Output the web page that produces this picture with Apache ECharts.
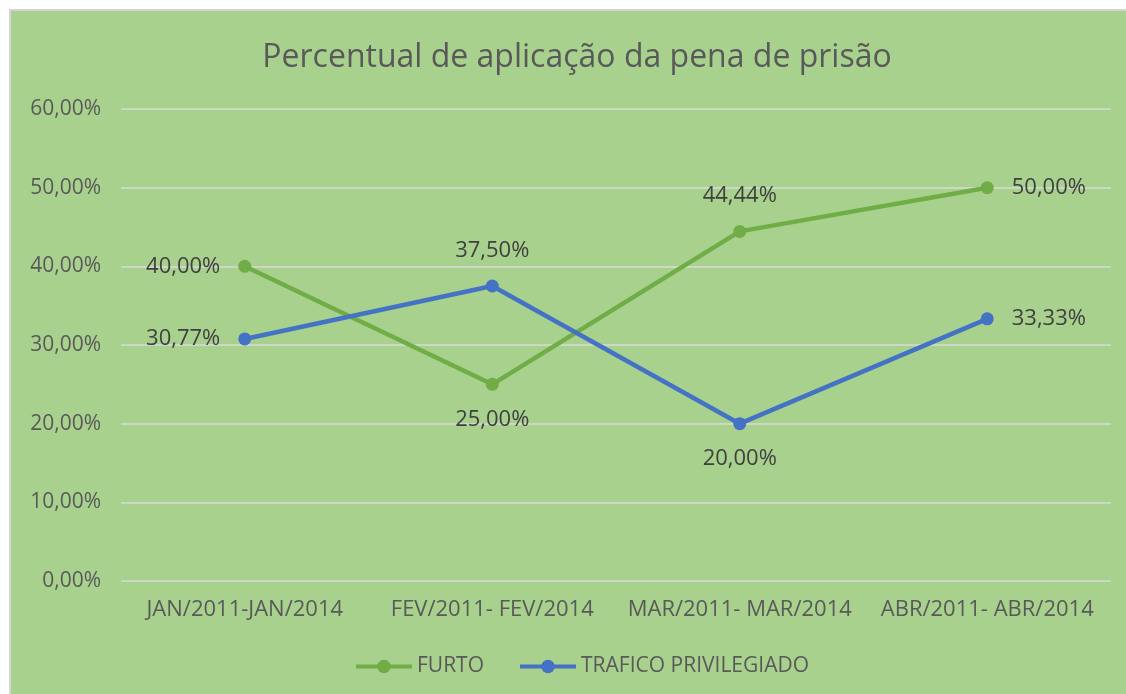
<!DOCTYPE html>
<html>
<head>
<meta charset="utf-8">
<script src="https://cdn.jsdelivr.net/npm/echarts@6/dist/echarts.min.js"></script>
<style>
  html, body { margin: 0; padding: 0; background: #ffffff; }
  #bg { position: absolute; left: 9px; top: 9px; width: 1117px; height: 685px; background: #a9d18e; border-left: 2px solid #d4d4d4; border-top: 2px solid #d4d4d4; }
  #chart { position: absolute; left: 0; top: 0; width: 1126px; height: 694px; }
</style>
</head>
<body>
<div id="bg"></div>
<div id="chart"></div>
<script>
const categories = ['JAN/2011-JAN/2014', 'FEV/2011- FEV/2014', 'MAR/2011- MAR/2014', 'ABR/2011- ABR/2014'];
const furto = [40.00, 25.00, 44.44, 50.00];
const trafico = [30.77, 37.50, 20.00, 33.33];
const furtoLabelPos = ['left', 'bottom', 'top', 'right'];
const traficoLabelPos = ['left', 'top', 'bottom', 'right'];
const yTicks = [0, 10, 20, 30, 40, 50, 60];

const FONT = 'Open Sans';
const TXT = '#595959';
const fmt = v => v.toFixed(2).replace('.', ',') + '%';

function buildData(values, positions) {
  return values.map((v, i) => ({
    value: v,
    label: { position: positions[i] }
  }));
}

const chart = echarts.init(document.getElementById('chart'), null, { renderer: 'canvas' });
chart.setOption({
  backgroundColor: 'transparent',
  animation: false,
  title: {
    text: 'Percentual de aplicação da pena de prisão',
    left: 572,
    top: 37,
    textAlign: 'center',
    textStyle: { fontFamily: FONT, fontSize: 32, fontWeight: 'normal', color: TXT }
  },
  legend: {
    bottom: 12,
    left: 349,
    itemWidth: 56,
    itemHeight: 17,
    itemGap: 34,
    lineStyle: { width: 4 },
    textStyle: { fontFamily: FONT, fontSize: 21, color: TXT },
    data: ['FURTO', 'TRAFICO PRIVILEGIADO']
  },
  grid: { left: 121, right: 15, top: 109, bottom: 113 },
  xAxis: {
    type: 'category',
    data: categories,
    boundaryGap: true,
    axisLine: { show: false },
    axisTick: { show: false },
    axisLabel: { fontFamily: FONT, fontSize: 22, color: TXT, margin: 18, interval: 0 }
  },
  yAxis: {
    type: 'value',
    min: yTicks[0],
    max: yTicks[yTicks.length - 1],
    interval: 10,
    axisLine: { show: false },
    axisTick: { show: false },
    splitLine: { lineStyle: { color: '#d9d9d9', width: 1.5 } },
    axisLabel: { fontFamily: FONT, fontSize: 21, color: TXT, margin: 20, formatter: v => fmt(v) }
  },
  series: [
    {
      name: 'FURTO',
      type: 'line',
      data: buildData(furto, furtoLabelPos),
      color: '#70ad47',
      lineStyle: { width: 4.5 },
      symbol: 'circle',
      symbolSize: 13,
      label: { show: true, distance: 18, fontFamily: FONT, fontSize: 22, color: '#404040', formatter: p => fmt(p.value) }
    },
    {
      name: 'TRAFICO PRIVILEGIADO',
      type: 'line',
      data: buildData(trafico, traficoLabelPos),
      color: '#4472c4',
      lineStyle: { width: 4.5 },
      symbol: 'circle',
      symbolSize: 13,
      label: { show: true, distance: 18, fontFamily: FONT, fontSize: 22, color: '#404040', formatter: p => fmt(p.value) }
    }
  ]
});
</script>
</body>
</html>
